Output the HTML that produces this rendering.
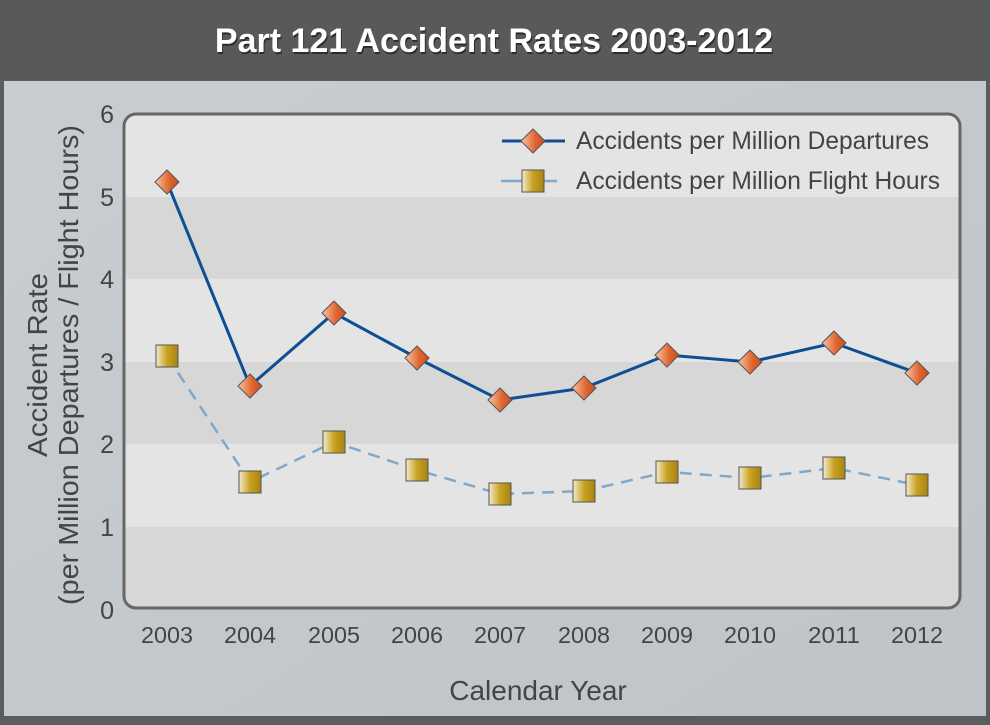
<!DOCTYPE html>
<html><head><meta charset="utf-8"><style>
body{margin:0;width:990px;height:720px;overflow:hidden;background:#5b5c5e;font-family:"Liberation Sans",sans-serif}
</style></head><body>
<svg width="990" height="720" xmlns="http://www.w3.org/2000/svg">
<defs>
<linearGradient id="panel" x1="0" y1="0" x2="1" y2="1"><stop offset="0" stop-color="#c9cdd1"/><stop offset="1" stop-color="#bfc4c8"/></linearGradient>
<linearGradient id="dia" x1="0" y1="0" x2="1" y2="0"><stop offset="0" stop-color="#f6c6a6"/><stop offset="0.6" stop-color="#e0642e"/><stop offset="1" stop-color="#c84f20"/></linearGradient>
<linearGradient id="sq" x1="0" y1="0" x2="1" y2="0"><stop offset="0" stop-color="#f3ead0"/><stop offset="0.5" stop-color="#c9a222"/><stop offset="1" stop-color="#a88410"/></linearGradient>
<clipPath id="pc"><rect x="124" y="114" width="836" height="494" rx="12"/></clipPath>
</defs>
<rect x="0" y="0" width="990" height="80" fill="#58595b"/>
<text x="495" y="54" text-anchor="middle" font-size="34" font-weight="bold" fill="#000" opacity="0.5">Part 121 Accident Rates 2003-2012</text>
<text x="494" y="52" text-anchor="middle" font-size="34" font-weight="bold" fill="#fff">Part 121 Accident Rates 2003-2012</text>
<rect x="4" y="81" width="982" height="635" fill="url(#panel)"/>
<g clip-path="url(#pc)">
<rect x="124" y="114" width="836" height="494" fill="#e4e4e4"/>
<rect x="124" y="197" width="836" height="82" fill="#d7d7d7"/>
<rect x="124" y="362" width="836" height="82" fill="#d7d7d7"/>
<rect x="124" y="527" width="836" height="82" fill="#d7d7d7"/>
</g>
<rect x="124" y="114" width="836" height="494" rx="12" fill="none" stroke="#666" stroke-width="3"/>
<g font-size="25" fill="#444" text-anchor="end">
<text x="114" y="123">6</text><text x="114" y="206">5</text><text x="114" y="288">4</text><text x="114" y="371">3</text><text x="114" y="453">2</text><text x="114" y="536">1</text><text x="114" y="619">0</text>
</g>
<g font-size="23" fill="#444" text-anchor="middle">
<text x="167" y="643" textLength="52" lengthAdjust="spacingAndGlyphs">2003</text><text x="250" y="643" textLength="52" lengthAdjust="spacingAndGlyphs">2004</text><text x="334" y="643" textLength="52" lengthAdjust="spacingAndGlyphs">2005</text><text x="417" y="643" textLength="52" lengthAdjust="spacingAndGlyphs">2006</text><text x="500" y="643" textLength="52" lengthAdjust="spacingAndGlyphs">2007</text><text x="584" y="643" textLength="52" lengthAdjust="spacingAndGlyphs">2008</text><text x="667" y="643" textLength="52" lengthAdjust="spacingAndGlyphs">2009</text><text x="750" y="643" textLength="52" lengthAdjust="spacingAndGlyphs">2010</text><text x="834" y="643" textLength="52" lengthAdjust="spacingAndGlyphs">2011</text><text x="917" y="643" textLength="52" lengthAdjust="spacingAndGlyphs">2012</text>
</g>
<text x="538" y="700" text-anchor="middle" font-size="28" fill="#444">Calendar Year</text>
<g transform="translate(47,365) rotate(-90)" font-size="28" fill="#444" text-anchor="middle">
<text x="0" y="0" textLength="184" lengthAdjust="spacingAndGlyphs">Accident Rate</text><text x="0" y="31" textLength="480" lengthAdjust="spacingAndGlyphs">(per Million Departures / Flight Hours)</text>
</g>
<polyline fill="none" stroke="#7fa8cb" stroke-width="2.5" stroke-dasharray="12,8" points="167,356 250,482 334,442 417,470 500,494 584,491 667,472 750,478 834,468 917,485"/>
<polyline fill="none" stroke="#0e4f94" stroke-width="3" points="167,182 250,386 334,313 417,358 500,400 584,388 667,355 750,362 834,343 917,373"/>
<g stroke="#555" stroke-width="1" fill="url(#sq)">
<rect x="156" y="345" width="22" height="22"/><rect x="239" y="471" width="22" height="22"/><rect x="323" y="431" width="22" height="22"/><rect x="406" y="459" width="22" height="22"/><rect x="489" y="483" width="22" height="22"/><rect x="573" y="480" width="22" height="22"/><rect x="656" y="461" width="22" height="22"/><rect x="739" y="467" width="22" height="22"/><rect x="823" y="457" width="22" height="22"/><rect x="906" y="474" width="22" height="22"/>
</g>
<g stroke="#555" stroke-width="1" fill="url(#dia)">
<path d="M167,170l12,12l-12,12l-12,-12z"/><path d="M250,374l12,12l-12,12l-12,-12z"/><path d="M334,301l12,12l-12,12l-12,-12z"/><path d="M417,346l12,12l-12,12l-12,-12z"/><path d="M500,388l12,12l-12,12l-12,-12z"/><path d="M584,376l12,12l-12,12l-12,-12z"/><path d="M667,343l12,12l-12,12l-12,-12z"/><path d="M750,350l12,12l-12,12l-12,-12z"/><path d="M834,331l12,12l-12,12l-12,-12z"/><path d="M917,361l12,12l-12,12l-12,-12z"/>
</g>
<line x1="502" y1="141" x2="565" y2="141" stroke="#0e4f94" stroke-width="3"/>
<path d="M533,129l12,12l-12,12l-12,-12z" fill="url(#dia)" stroke="#555"/>
<line x1="501" y1="181" x2="557" y2="181" stroke="#7fa8cb" stroke-width="2.5"/>
<rect x="522" y="170" width="22" height="22" fill="url(#sq)" stroke="#555"/>
<g font-size="25" fill="#444">
<text x="576" y="149" textLength="353" lengthAdjust="spacingAndGlyphs">Accidents per Million Departures</text>
<text x="576" y="189" textLength="364" lengthAdjust="spacingAndGlyphs">Accidents per Million Flight Hours</text>
</g>
</svg>
</body></html>
